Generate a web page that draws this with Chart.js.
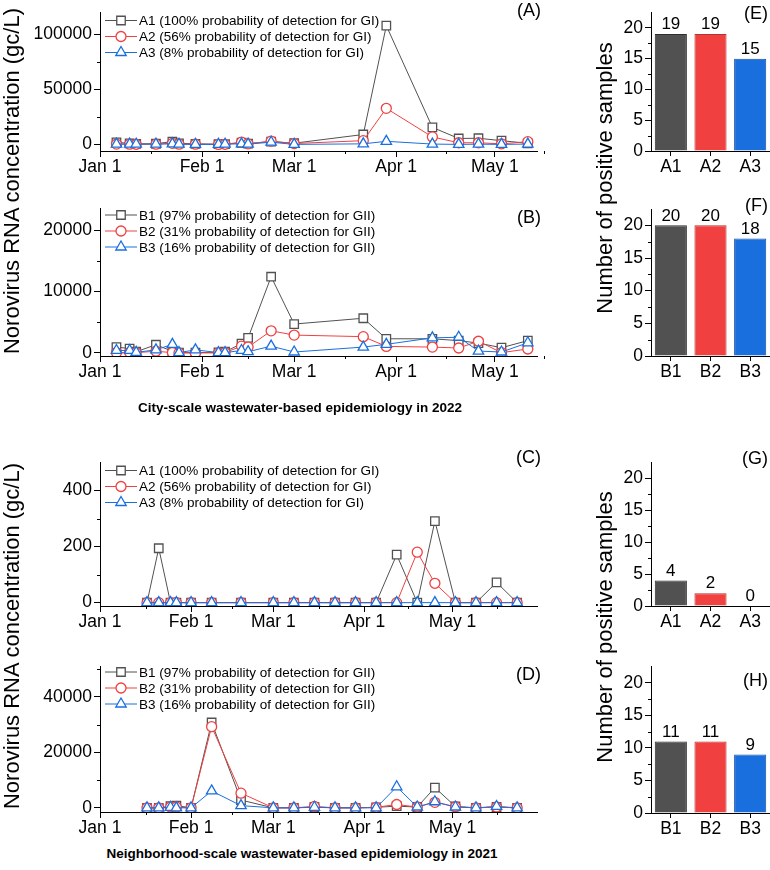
<!DOCTYPE html>
<html>
<head>
<meta charset="utf-8">
<script src="https://cdn.jsdelivr.net/npm/chart.js@4.4.1/dist/chart.umd.min.js"></script>
<style>
  body { margin: 0; background: #fff; font-family: "Liberation Sans", Arial, sans-serif; }
  #wrap { position: relative; width: 770px; height: 870px; overflow: hidden; }
  .box { position: absolute; }
  .txt { position: absolute; color: #000; white-space: nowrap; }
  .rot { width: 400px; height: 26px; line-height: 26px; text-align: center; font-size: 22px; transform: rotate(-90deg); }
  .tag { width: 50px; height: 20px; line-height: 20px; text-align: right; font-size: 18px; }
  .title { width: 600px; text-align: center; font-weight: bold; font-size: 13.5px; }
</style>
</head>
<body>
<div id="wrap">
  <div class="box" style="left:0;top:0;width:545px;height:179px"><canvas id="chartA"></canvas></div>
  <div class="box" style="left:0;top:196px;width:545px;height:188px"><canvas id="chartB"></canvas></div>
  <div class="box" style="left:0;top:450px;width:545px;height:184px"><canvas id="chartC"></canvas></div>
  <div class="box" style="left:0;top:654px;width:545px;height:186px"><canvas id="chartD"></canvas></div>

  <div class="box" style="left:615px;top:0;width:155px;height:179px"><canvas id="chartE"></canvas></div>
  <div class="box" style="left:615px;top:196px;width:155px;height:188px"><canvas id="chartF"></canvas></div>
  <div class="box" style="left:615px;top:450px;width:155px;height:184px"><canvas id="chartG"></canvas></div>
  <div class="box" style="left:615px;top:654px;width:155px;height:187px"><canvas id="chartH"></canvas></div>

  <div class="txt rot" style="left:-188px;top:168px">Norovirus RNA concentration (gc/L)</div>
  <div class="txt rot" style="left:-188px;top:623px">Norovirus RNA concentration (gc/L)</div>
  <div class="txt rot" style="left:405px;top:165px">Number of positive samples</div>
  <div class="txt rot" style="left:405px;top:614px">Number of positive samples</div>

  <div class="txt tag" style="left:491px;top:0px">(A)</div>
  <div class="txt tag" style="left:491px;top:207px">(B)</div>
  <div class="txt tag" style="left:491px;top:447px">(C)</div>
  <div class="txt tag" style="left:491px;top:664px">(D)</div>
  <div class="txt tag" style="left:718px;top:3px">(E)</div>
  <div class="txt tag" style="left:718px;top:195px">(F)</div>
  <div class="txt tag" style="left:718px;top:448px">(G)</div>
  <div class="txt tag" style="left:718px;top:670px">(H)</div>

  <div class="txt title" style="left:0;top:400px">City-scale wastewater-based epidemiology in 2022</div>
  <div class="txt title" style="left:2px;top:846px">Neighborhood-scale wastewater-based epidemiology in 2021</div>
</div>

<script>
// sampling dates (MM-DD)
const dates2022 = ['01-06', '01-10', '01-12', '01-18', '01-23', '01-25', '01-30', '02-06', '02-08', '02-13',
  '02-15', '02-22', '03-01', '03-22', '03-29', '04-12', '04-20', '04-26', '05-03', '05-11'];
const dates2021 = ['01-17', '01-21', '01-25', '01-27', '02-01', '02-08', '02-18', '03-01', '03-08', '03-15',
  '03-22', '03-29', '04-05', '04-12', '04-19', '04-25', '05-02', '05-09', '05-16', '05-23'];

const monthTicks = ['01-01', '02-01', '03-01', '04-01', '05-01'];
const monthLabels = ['Jan 1', 'Feb 1', 'Mar 1', 'Apr 1', 'May 1'];

// city-scale 2022, gc/L
const cityA1 = [1800, 1000, 500, 600, 2600, 1000, 500, 200, 300, 1500, 800, 2500, 1100, 9000, 108000, 15500, 5400, 5600, 3400, 1000];
const cityA2 = [300, 200, 100, 200, 1000, 200, 200, 0, 100, 2000, 500, 3000, 800, 3400, 32800, 6800, 1500, 1500, 500, 2500];
const cityA3 = [300, 300, 200, 300, 500, 200, 0, 0, 200, 500, 300, 2000, 0, 500, 2800, 300, 0, 200, 0, 300];
const cityB1 = [960, 700, 200, 1330, 270, 50, 50, 100, 200, 1500, 2450, 12400, 4700, 5640, 2300, 2300, 2000, 1600, 850, 2000];
const cityB2 = [50, 100, 50, 270, 50, 0, 0, 0, 50, 1100, 950, 3600, 2900, 2650, 1060, 950, 800, 1900, 50, 640];
const cityB3 = [400, 400, 100, 500, 1400, 50, 500, 50, 50, 400, 200, 1100, 150, 950, 1400, 2450, 2550, 300, 150, 1650];

// neighborhood-scale 2021, gc/L
const hoodA1 = [0, 194, 0, 0, 0, 0, 0, 0, 0, 0, 0, 0, 0, 171, 0, 291, 0, 0, 72, 0];
const hoodA2 = [0, 0, 0, 0, 0, 0, 0, 0, 0, 0, 0, 0, 0, 0, 180, 69, 0, 0, 0, 0];
const hoodA3 = [0, 0, 0, 0, 0, 0, 0, 0, 0, 0, 0, 0, 0, 0, 0, 0, 0, 0, 0, 0];
const hoodB1 = [0, 0, 600, 800, 0, 30800, 2800, 0, 0, 300, 0, 0, 200, 600, 300, 7300, 500, 0, 300, 0];
const hoodB2 = [0, 0, 300, 300, 0, 29300, 5300, 0, 0, 500, 0, 0, 200, 1200, 300, 2000, 400, 0, 300, 0];
const hoodB3 = [0, 0, 200, 0, 0, 6100, 800, 0, 0, 200, 0, 0, 0, 7600, 300, 2200, 300, 0, 500, 0];

const namesA = ['A1 (100% probability of detection for GI)', 'A2 (56% probability of detection for GI)', 'A3 (8% probability of detection for GI)'];
const namesB = ['B1 (97% probability of detection for GII)', 'B2 (31% probability of detection for GII)', 'B3 (16% probability of detection for GII)'];

// number of positive samples
const groupsA = ['A1', 'A2', 'A3'];
const groupsB = ['B1', 'B2', 'B3'];
const positivesCityA = [19, 19, 15];
const positivesCityB = [20, 20, 18];
const positivesHoodA = [4, 2, 0];
const positivesHoodB = [11, 11, 9];

const colors = ['#515151', '#F14040', '#1A6FDF'];
const edges = ['#2e2e2e', '#b83030', '#1250a8'];
const markers = ['rect', 'circle', 'triangle'];
const markerSize = [6, 5, 6];
const tickFont = { family: 'Liberation Sans, Arial, sans-serif', size: 17.5 };

function dayOf(s) {
  const [m, d] = s.split('-').map(Number);
  return (Date.UTC(2021, m - 1, d) - Date.UTC(2021, 0, 1)) / 86400000;
}

function drawMarker(ctx, style, r, x, y) {
  ctx.beginPath();
  if (style === 'rect') {
    const s = r / Math.SQRT2;
    ctx.rect(x - s, y - s, 2 * s, 2 * s);
  } else if (style === 'circle') {
    ctx.arc(x, y, r, 0, Math.PI * 2);
  } else {
    for (let k = 0; k < 3; k++) {
      const a = k * Math.PI * 2 / 3;
      ctx.lineTo(x + Math.sin(a) * r, y - Math.cos(a) * r);
    }
    ctx.closePath();
  }
  ctx.fill();
  ctx.stroke();
}

const minorTicks = {
  id: 'minorTicks',
  afterDraw(chart, args, opts) {
    const ctx = chart.ctx, xs = chart.scales.x, ys = chart.scales.y;
    ctx.save();
    ctx.strokeStyle = '#000';
    ctx.lineWidth = 1;
    (opts.x || []).forEach(v => {
      const px = Math.round(xs.getPixelForValue(v)) + 0.5;
      ctx.beginPath(); ctx.moveTo(px, xs.top); ctx.lineTo(px, xs.top + 3); ctx.stroke();
    });
    (opts.y || []).forEach(v => {
      const py = Math.round(ys.getPixelForValue(v)) + 0.5;
      ctx.beginPath(); ctx.moveTo(ys.right, py); ctx.lineTo(ys.right - 3, py); ctx.stroke();
    });
    ctx.restore();
  }
};

const innerLegend = {
  id: 'innerLegend',
  afterDraw(chart, args, opts) {
    if (!opts.show) return;
    const ctx = chart.ctx, area = chart.chartArea;
    ctx.save();
    chart.data.datasets.forEach((ds, i) => {
      const y = area.top + opts.top + i * 16;
      const x0 = area.left + 5;
      ctx.strokeStyle = ds.borderColor;
      ctx.lineWidth = 1;
      ctx.beginPath(); ctx.moveTo(x0, y); ctx.lineTo(x0 + 32, y); ctx.stroke();
      ctx.fillStyle = '#fff';
      ctx.lineWidth = 1.3;
      drawMarker(ctx, ds.pointStyle, ds.pointRadius, x0 + 16, y);
      ctx.fillStyle = '#000';
      ctx.font = '13.5px "Liberation Sans", Arial, sans-serif';
      ctx.textBaseline = 'middle';
      ctx.fillText(ds.label, x0 + 34, y + 1);
    });
    ctx.restore();
  }
};

const barValues = {
  id: 'barValues',
  afterDatasetsDraw(chart, args, opts) {
    if (!opts.show) return;
    const ctx = chart.ctx;
    const meta = chart.getDatasetMeta(0);
    const vals = chart.data.datasets[0].data;
    ctx.save();
    ctx.fillStyle = '#000';
    ctx.font = '17px "Liberation Sans", Arial, sans-serif';
    ctx.textAlign = 'center';
    ctx.textBaseline = 'bottom';
    meta.data.forEach((bar, i) => ctx.fillText(String(vals[i]), bar.x, bar.y - 1));
    ctx.restore();
  }
};

Chart.register(minorTicks, innerLegend, barValues);

function lineChart(id, dates, series, names, y, xMax, padTop, legendTop) {
  const xs = dates.map(dayOf);
  new Chart(document.getElementById(id), {
    type: 'line',
    data: {
      datasets: series.map((vals, i) => ({
        label: names[i],
        data: vals.map((v, k) => ({ x: xs[k], y: v })),
        borderColor: colors[i],
        borderWidth: 1,
        pointStyle: markers[i],
        pointRadius: markerSize[i],
        pointBorderColor: colors[i],
        pointBackgroundColor: '#fff',
        pointBorderWidth: 1.3,
        tension: 0,
        order: 3 - i
      }))
    },
    options: {
      responsive: true,
      maintainAspectRatio: false,
      animation: false,
      devicePixelRatio: 1,
      layout: { padding: { top: padTop, right: 5, left: 0, bottom: 0 } },
      plugins: {
        legend: { display: false },
        tooltip: { enabled: false },
        innerLegend: { show: true, top: legendTop },
        minorTicks: { x: [15.5, 45, 74.5, 105, 135], y: y.minor }
      },
      scales: {
        x: {
          type: 'linear',
          min: 0,
          max: xMax,
          border: { color: '#000', width: 1 },
          grid: { drawOnChartArea: false, tickLength: 6, color: '#000' },
          ticks: {
            font: tickFont, color: '#000', padding: 0, maxRotation: 0, autoSkip: false,
            callback: v => monthLabels[monthTicks.map(dayOf).indexOf(v)]
          },
          afterBuildTicks: s => { s.ticks = monthTicks.map(m => ({ value: dayOf(m) })); },
          afterFit: s => { s.height = 28; }
        },
        y: {
          min: y.min,
          max: y.max,
          border: { color: '#000', width: 1 },
          grid: { drawOnChartArea: false, tickLength: 6, color: '#000' },
          ticks: { font: tickFont, color: '#000', padding: 2, callback: v => String(v) },
          afterBuildTicks: s => { s.ticks = y.ticks.map(v => ({ value: v })); },
          afterFit: s => { s.width = 100; }
        }
      }
    }
  });
}

function barChart(id, labels, values, padTop) {
  new Chart(document.getElementById(id), {
    type: 'bar',
    data: {
      labels: labels,
      datasets: [{
        data: values,
        backgroundColor: colors,
        borderColor: edges,
        borderWidth: 1,
        barPercentage: 0.81,
        categoryPercentage: 1
      }]
    },
    options: {
      responsive: true,
      maintainAspectRatio: false,
      animation: false,
      devicePixelRatio: 1,
      layout: { padding: { top: padTop, right: 0, left: 0, bottom: 0 } },
      plugins: {
        legend: { display: false },
        tooltip: { enabled: false },
        barValues: { show: true },
        minorTicks: { y: [2.5, 7.5, 12.5, 17.5] }
      },
      scales: {
        x: {
          border: { color: '#000', width: 1 },
          grid: { drawOnChartArea: false, offset: false, tickLength: 5, color: '#000' },
          ticks: { font: tickFont, color: '#000', padding: 1 },
          afterFit: s => { s.height = 28; }
        },
        y: {
          min: 0,
          max: 22.5,
          border: { color: '#000', width: 1 },
          grid: { drawOnChartArea: false, tickLength: 6, color: '#000' },
          ticks: { font: tickFont, color: '#000', padding: 2 },
          afterBuildTicks: s => { s.ticks = [0, 5, 10, 15, 20].map(v => ({ value: v })); },
          afterFit: s => { s.width = 36; }
        }
      }
    }
  });
}

lineChart('chartA', dates2022, [cityA1, cityA2, cityA3], namesA,
  { min: -6000, max: 120000, ticks: [0, 50000, 100000], minor: [25000, 75000] }, 133, 3, 8);
lineChart('chartB', dates2022, [cityB1, cityB2, cityB3], namesB,
  { min: -500, max: 23500, ticks: [0, 10000, 20000], minor: [5000, 15000] }, 133, 9, 6.5);
lineChart('chartC', dates2021, [hoodA1, hoodA2, hoodA3], namesA,
  { min: -12, max: 500, ticks: [0, 200, 400], minor: [100, 300] }, 149, 9, 8);
lineChart('chartD', dates2021, [hoodB1, hoodB2, hoodB3], namesB,
  { min: -1500, max: 51000, ticks: [0, 20000, 40000], minor: [10000, 30000, 50000] }, 149, 9, 5.5);

barChart('chartE', groupsA, positivesCityA, 3);
barChart('chartF', groupsB, positivesCityB, 13);
barChart('chartG', groupsA, positivesHoodA, 9);
barChart('chartH', groupsB, positivesHoodB, 11);
</script>
</body>
</html>
